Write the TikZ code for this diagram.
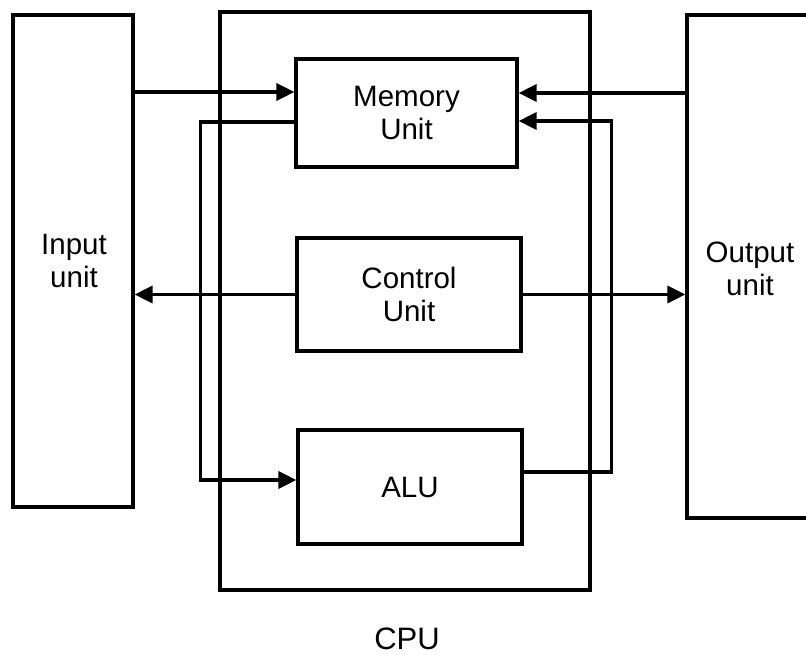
\documentclass[tikz,border=0pt]{standalone}
\usepackage{fontspec}
\setmainfont{Liberation Sans}
\usetikzlibrary{arrows.meta}
\begin{document}
\begin{tikzpicture}[x=1pt,y=-1pt,
  box/.style={draw, line width=3.2pt, inner sep=0pt},
  lbl/.style={font=\fontsize{29.5}{33}\selectfont, align=center, inner sep=0pt},
  arr/.style={-{Triangle[length=18pt,width=17pt]}, line width=3.2pt}]
\useasboundingbox (0,0) rectangle (806,655);
\clip (0,0) rectangle (806,655);
% outer units
\node[box, minimum width=120, minimum height=492] (in) at (73,261) {};
\node[lbl] (inlbl) at (74,261) {Input\\unit};
\node[box, minimum width=150, minimum height=503] (out) at (762,266.5) {};
\node[lbl] (outlbl) at (750,269) {Output\\unit};
% CPU
\node[box, minimum width=370, minimum height=578] (cpu) at (405,301) {};
\node[lbl, font=\fontsize{31}{33}\selectfont] (cpulbl) at (407,639) {CPU};
% inner units
\node[box, lbl, minimum width=221, minimum height=108] (mem) at (406.5,113) {Memory\\Unit};
\node[box, lbl, minimum width=224, minimum height=113] (ctl) at (409,294.5) {Control\\Unit};
\node[box, lbl, minimum width=224, minimum height=114] (alu) at (410,487) {ALU};
% connection points
\coordinate (mw1) at ([yshift=21pt]mem.west);
\coordinate (mw2) at ([yshift=-9pt]mem.west);
\coordinate (me1) at ([yshift=20pt]mem.east);
\coordinate (me2) at ([yshift=-8pt]mem.east);
\coordinate (aw) at ([yshift=7pt]alu.west);
\coordinate (ae) at ([yshift=15pt]alu.east);
\coordinate (lloop) at ([xshift=-96pt]aw);
\coordinate (rloop) at ([xshift=93pt]me2);
% connectors
\draw[arr] (mw1 -| in.east) -- (mw1);
\draw[arr] (me1 -| out.west) -- (me1);
\draw[arr] (mw2) -| (lloop) -- (aw);
\draw[arr] (ae) -| (rloop) -- (me2);
\draw[arr] (ctl.west) -- (ctl.west -| in.east);
\draw[arr] (ctl.east) -- (ctl.east -| out.west);
\end{tikzpicture}
\end{document}
